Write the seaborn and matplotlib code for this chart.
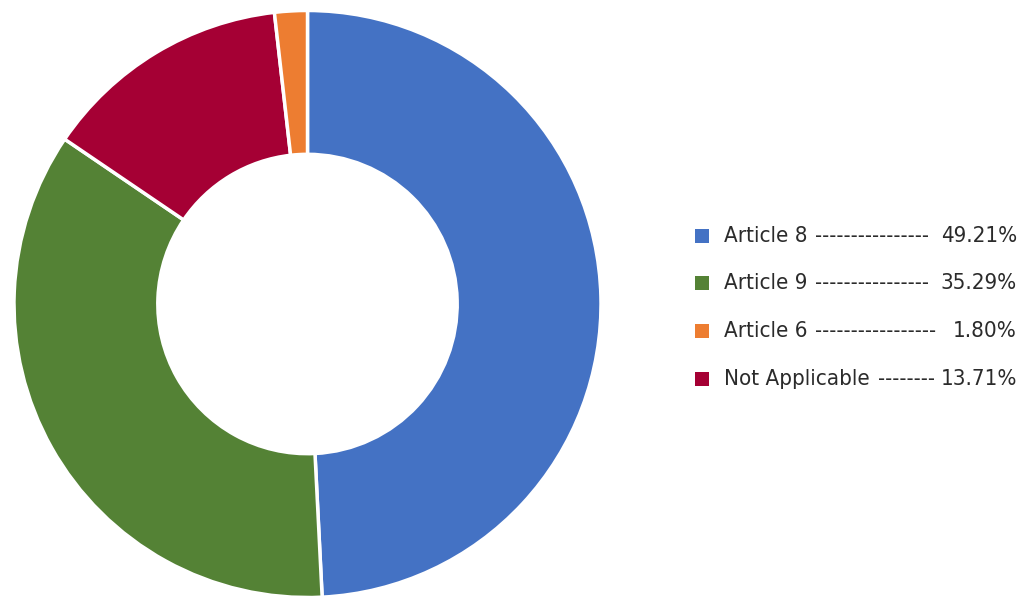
import matplotlib
matplotlib.use("Agg")
import matplotlib.pyplot as plt
import seaborn as sns
from matplotlib.patches import Rectangle
from matplotlib import font_manager

sns.set_theme(style="white")

# Data (pie order clockwise from top)
pie_labels = ["Article 8", "Article 9", "Not Applicable", "Article 6"]
pie_values = [49.21, 35.29, 13.71, 1.80]
pie_colors = ["#4472C4", "#548235", "#A50034", "#ED7D31"]

# Legend order
legend_labels = ["Article 8", "Article 9", "Article 6", "Not Applicable"]
legend_values = ["49.21%", "35.29%", "1.80%", "13.71%"]
legend_dashes = [16, 16, 17, 8]
legend_colors = ["#4472C4", "#548235", "#ED7D31", "#A50034"]

# Pick a condensed sans face if one exists, else Roboto
fam, stretch = "Roboto", "normal"
for f in font_manager.fontManager.ttflist:
    if str(f.stretch) in ("condensed", "semi-condensed", "extra-condensed") and f.style == "normal":
        fam, stretch = f.name, f.stretch
        break
plt.rcParams["font.family"] = [fam, "DejaVu Sans"]
fsize = 16 if stretch != "normal" else 15.5
dsize = 15.5

W, H = 1021, 596
fig = plt.figure(figsize=(W / 100, H / 100), dpi=100)
fig.patch.set_facecolor("white")

cx, cy, r = 307.5, 596 - 304, 293.5
ax = fig.add_axes([(cx - r) / W, (cy - r) / H, 2 * r / W, 2 * r / H])
ax.pie(pie_values, colors=pie_colors, startangle=90, counterclock=False,
       radius=1.0, wedgeprops=dict(width=0.49, edgecolor="white", linewidth=2.5))
ax.set_xlim(-1, 1)
ax.set_ylim(-1, 1)
ax.set_aspect("equal")
ax.axis("off")

rows_y = [236, 283, 331, 379]
dash_start = [815, 815, 815, 878]
for i, (lab, val, nd, col) in enumerate(zip(legend_labels, legend_values, legend_dashes, legend_colors)):
    y = rows_y[i]
    fig.patches.append(Rectangle((695 / W, (H - y - 7) / H), 14 / W, 14 / H,
                                 transform=fig.transFigure, facecolor=col, edgecolor="none"))
    fig.text(724 / W, (H - y) / H, lab, fontsize=fsize, fontstretch=stretch,
             color="#2b2b2b", va="center", ha="left")
    fig.text(dash_start[i] / W, (H - y) / H, "-" * nd, fontsize=dsize, fontstretch=stretch,
             color="#2b2b2b", va="center", ha="left")
    fig.text(1017 / W, (H - y) / H, val, fontsize=fsize, fontstretch=stretch,
             color="#2b2b2b", va="center", ha="right")

fig.savefig("out.png", dpi=100)
